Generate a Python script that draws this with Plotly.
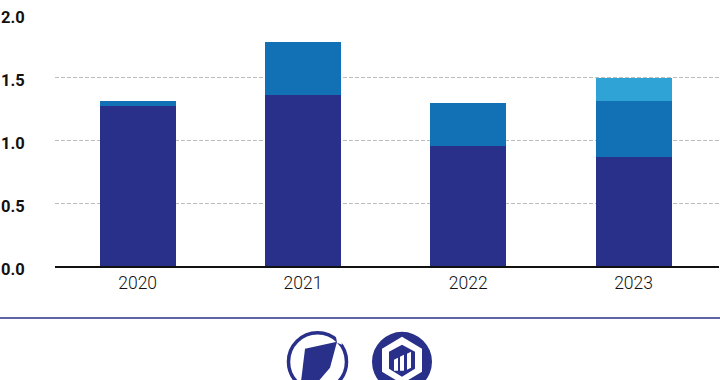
import plotly.graph_objects as go

years = ["2020", "2021", "2022", "2023"]
dark = [1.27, 1.36, 0.95, 0.865]
mid = [0.04, 0.415, 0.34, 0.445]
light = [0, 0, 0, 0.18]
y_ticks = [0, 0.5, 1.0, 1.5, 2.0]
y_labels = ["0.0", "0.5", "1.0", "1.5", "2.0"]

W, H = 720, 380
L, R, T, B = 55, 1, 13.5, 114
NAVY = "#29308a"


def px(x):
    return (x - L) / (W - L - R)


def py(y):
    return 1 - (y - T) / (H - T - B)


def poly(points, fill):
    path = "M " + " L ".join(f"{px(x):.5f},{py(y):.5f}" for x, y in points) + " Z"
    return dict(type="path", xref="paper", yref="paper", path=path,
                fillcolor=fill, line=dict(width=0), layer="above")


def ring(cx, cy, r, width, fill="rgba(0,0,0,0)"):
    return dict(type="circle", xref="paper", yref="paper",
                x0=px(cx - r), x1=px(cx + r), y0=py(cy + r), y1=py(cy - r),
                fillcolor=fill, line=dict(color=NAVY, width=width), layer="above")


fig = go.Figure()
for vals, col in ((dark, NAVY), (mid, "#1270b4"), (light, "#2fa3d6")):
    fig.add_bar(x=years, y=vals, marker=dict(color=col, line=dict(width=0)), width=0.46)

shapes = [
    dict(type="line", xref="paper", yref="paper", x0=px(0), x1=px(720),
         y0=py(318), y1=py(318), line=dict(color=NAVY, width=1.5)),
    # left logo
    ring(317.5, 362, 29, 3.5),
    poly([(335, 331), (340, 331), (342, 345), (337, 343)], "white"),
    poly([(305, 349), (337, 342), (330, 368), (318, 382), (301, 382)], NAVY),
    # right logo
    ring(402, 362, 30, 0, NAVY),
    poly([(402, 337), (422, 349), (422, 372), (402, 384), (382, 372), (382, 349)], "white"),
    poly([(402, 345), (415, 352), (415, 369), (402, 377), (389, 369), (389, 352)], NAVY),
    poly([(394, 360), (398, 358), (398, 371), (394, 371)], "white"),
    poly([(400, 357), (404, 355), (404, 371), (400, 371)], "white"),
    poly([(407, 354), (411, 352), (411, 368), (407, 370)], "white"),
]

annotations = [
    dict(xref="paper", yref="y", x=px(0), y=v, text=t, showarrow=False, xanchor="left",
         yanchor="middle", yshift=-3, xshift=-1, align="left",
         font=dict(family="Roboto", size=16.5, color="#111111", weight="bold"))
    for v, t in zip(y_ticks, y_labels)
]

fig.update_layout(
    width=W, height=H, barmode="stack", showlegend=False,
    margin=dict(l=L, r=R, t=T, b=B, autoexpand=False),
    paper_bgcolor="white", plot_bgcolor="white",
    font=dict(family="Roboto", color="#111111"),
    shapes=shapes, annotations=annotations,
    xaxis=dict(
        type="category", showgrid=False, showline=True, linecolor="#111111", linewidth=2,
        range=[-0.5, 3.517], ticks="",
        tickfont=dict(family="Roboto", size=17.5, color="#111111", weight=300),
        ticklabelstandoff=0,
    ),
    yaxis=dict(
        range=[0, 2], tickvals=y_ticks, showticklabels=False, showline=False, zeroline=False,
        gridcolor="#bcbcbc", griddash="4px,2px", gridwidth=1, ticks="",
    ),
)
fig.write_html("out.html", config=dict(displayModeBar=False),
               post_script="document.body.style.margin='0';document.body.style.overflow='hidden';")
